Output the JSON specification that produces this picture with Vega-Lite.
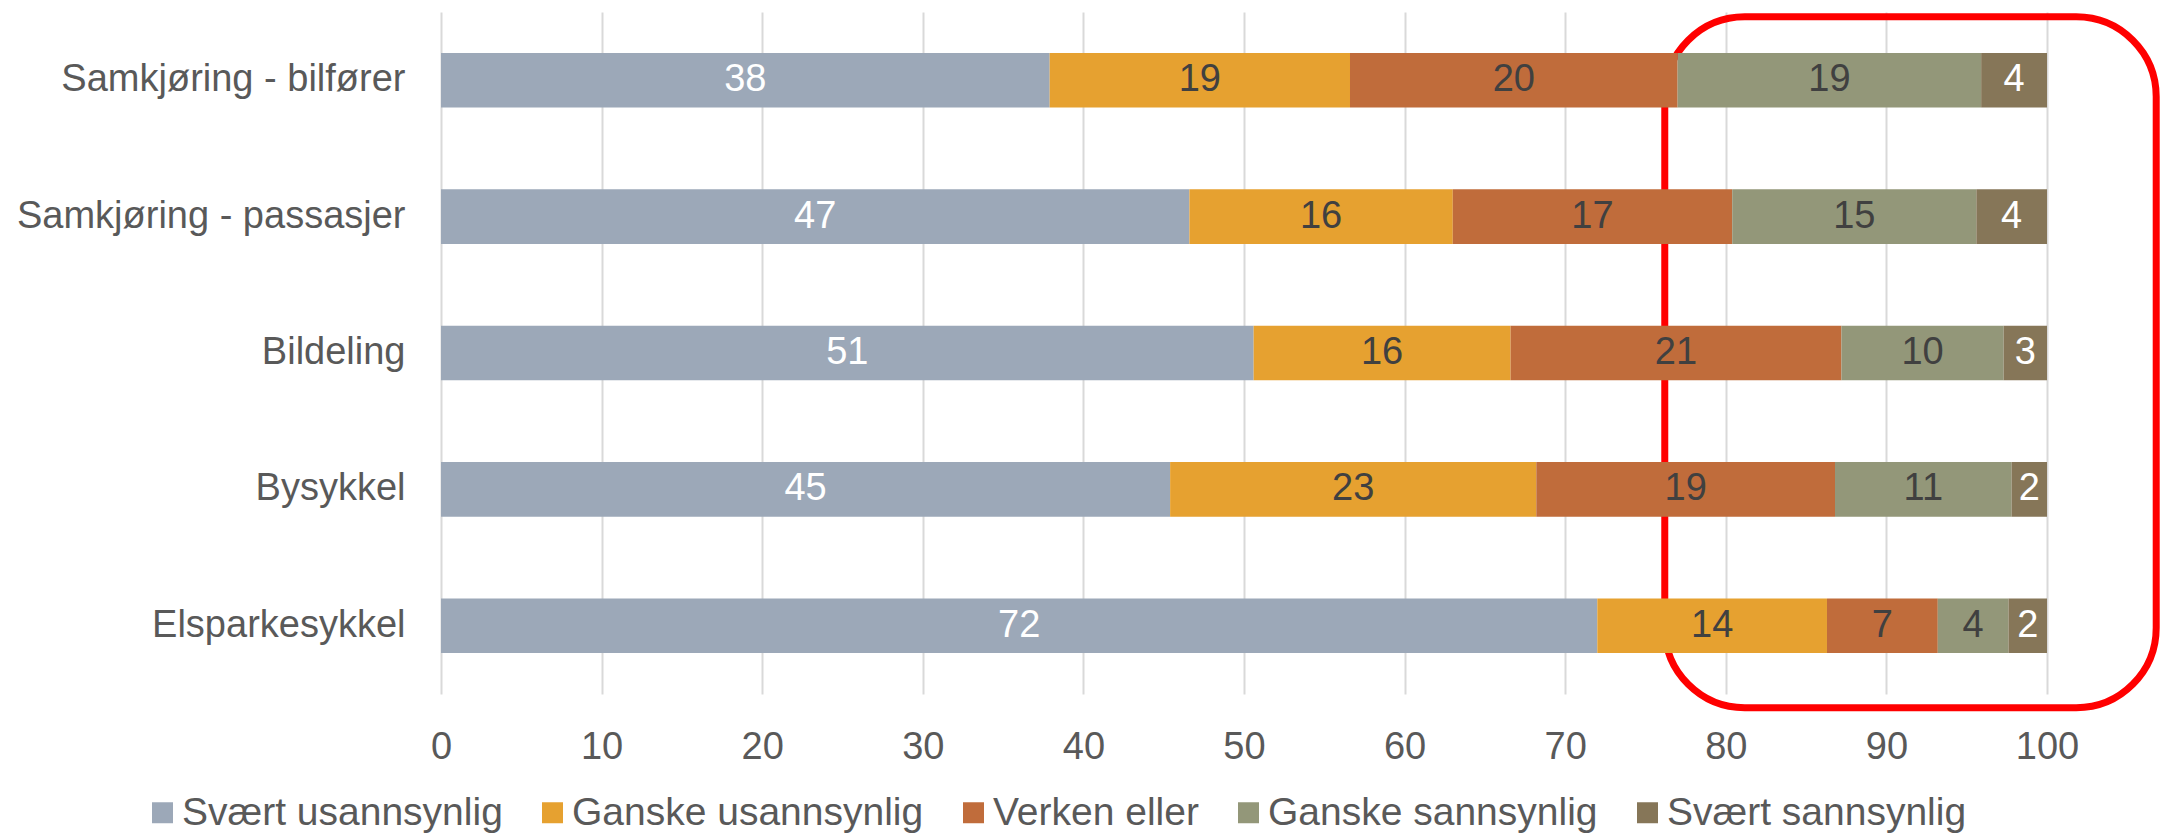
{
  "$schema": "https://vega.github.io/schema/vega-lite/v6.json",
  "width": 1606,
  "height": 682,
  "autosize": {"type": "none"},
  "padding": {"left": 441, "top": 12, "right": 120, "bottom": 141},
  "background": "white",
  "config": {"view": {"stroke": null}, "font": "Liberation Sans"},
  "datasets": {
    "bars": [
      {"kategori": "Samkjøring - bilfører", "serie": "Svært usannsynlig", "rekkefolge": 1, "value": 37.9},
      {"kategori": "Samkjøring - bilfører", "serie": "Ganske usannsynlig", "rekkefolge": 2, "value": 18.7},
      {"kategori": "Samkjøring - bilfører", "serie": "Verken eller", "rekkefolge": 3, "value": 20.4},
      {"kategori": "Samkjøring - bilfører", "serie": "Ganske sannsynlig", "rekkefolge": 4, "value": 18.9},
      {"kategori": "Samkjøring - bilfører", "serie": "Svært sannsynlig", "rekkefolge": 5, "value": 4.1},
      {"kategori": "Samkjøring - passasjer", "serie": "Svært usannsynlig", "rekkefolge": 1, "value": 46.6},
      {"kategori": "Samkjøring - passasjer", "serie": "Ganske usannsynlig", "rekkefolge": 2, "value": 16.4},
      {"kategori": "Samkjøring - passasjer", "serie": "Verken eller", "rekkefolge": 3, "value": 17.4},
      {"kategori": "Samkjøring - passasjer", "serie": "Ganske sannsynlig", "rekkefolge": 4, "value": 15.2},
      {"kategori": "Samkjøring - passasjer", "serie": "Svært sannsynlig", "rekkefolge": 5, "value": 4.4},
      {"kategori": "Bildeling", "serie": "Svært usannsynlig", "rekkefolge": 1, "value": 50.6},
      {"kategori": "Bildeling", "serie": "Ganske usannsynlig", "rekkefolge": 2, "value": 16.0},
      {"kategori": "Bildeling", "serie": "Verken eller", "rekkefolge": 3, "value": 20.6},
      {"kategori": "Bildeling", "serie": "Ganske sannsynlig", "rekkefolge": 4, "value": 10.1},
      {"kategori": "Bildeling", "serie": "Svært sannsynlig", "rekkefolge": 5, "value": 2.7},
      {"kategori": "Bysykkel", "serie": "Svært usannsynlig", "rekkefolge": 1, "value": 45.4},
      {"kategori": "Bysykkel", "serie": "Ganske usannsynlig", "rekkefolge": 2, "value": 22.8},
      {"kategori": "Bysykkel", "serie": "Verken eller", "rekkefolge": 3, "value": 18.6},
      {"kategori": "Bysykkel", "serie": "Ganske sannsynlig", "rekkefolge": 4, "value": 11.0},
      {"kategori": "Bysykkel", "serie": "Svært sannsynlig", "rekkefolge": 5, "value": 2.2},
      {"kategori": "Elsparkesykkel", "serie": "Svært usannsynlig", "rekkefolge": 1, "value": 72.0},
      {"kategori": "Elsparkesykkel", "serie": "Ganske usannsynlig", "rekkefolge": 2, "value": 14.3},
      {"kategori": "Elsparkesykkel", "serie": "Verken eller", "rekkefolge": 3, "value": 6.9},
      {"kategori": "Elsparkesykkel", "serie": "Ganske sannsynlig", "rekkefolge": 4, "value": 4.4},
      {"kategori": "Elsparkesykkel", "serie": "Svært sannsynlig", "rekkefolge": 5, "value": 2.4}
    ],
    "box": [{"x1": 76.2, "x2": 106.8, "y1": -0.02, "y2": 0.993}]
  },
  "layer": [
    {
      "data": {"name": "box"},
      "mark": {"type": "rect", "fill": null, "stroke": "#FF0000", "strokeWidth": 7, "cornerRadius": 80},
      "encoding": {
        "x": {"field": "x1", "type": "quantitative", "scale": {"domain": [0, 100], "nice": false}, "axis": {"title": null}},
        "x2": {"field": "x2"},
        "y": {"field": "y1", "type": "quantitative", "scale": {"domain": [0, 1], "nice": false, "zero": false}, "axis": null},
        "y2": {"field": "y2"}
      }
    },
    {
      "data": {"name": "bars"},
      "transform": [
        {"stack": "value", "groupby": ["kategori"], "sort": [{"field": "rekkefolge", "order": "ascending"}], "as": ["x0", "x1"]}
      ],
      "encoding": {
        "y": {
          "field": "kategori",
          "type": "nominal",
          "sort": ["Samkjøring - bilfører", "Samkjøring - passasjer", "Bildeling", "Bysykkel", "Elsparkesykkel"],
          "scale": {"paddingInner": 0.6, "paddingOuter": 0.3},
          "axis": {
            "title": null,
            "domain": false,
            "ticks": false,
            "labelFontSize": 38,
            "labelColor": "#595959",
            "labelPadding": 36,
            "labelLimit": 600
          }
        }
      },
      "layer": [
        {
          "mark": {"type": "bar"},
          "encoding": {
            "x": {
              "field": "x0",
              "type": "quantitative",
              "scale": {"domain": [0, 100], "nice": false},
              "axis": {
                "title": null,
                "values": [0, 10, 20, 30, 40, 50, 60, 70, 80, 90, 100],
                "grid": true,
                "gridColor": "#d9d9d9",
                "gridWidth": 2,
                "domain": false,
                "ticks": false,
                "labelFontSize": 38,
                "labelColor": "#595959",
                "labelPadding": 34,
                "labelFlush": false
              }
            },
            "x2": {"field": "x1"},
            "color": {
              "field": "serie",
              "type": "nominal",
              "scale": {
                "domain": ["Svært usannsynlig", "Ganske usannsynlig", "Verken eller", "Ganske sannsynlig", "Svært sannsynlig"],
                "range": ["#9CA8B8", "#E6A130", "#C06C3B", "#939779", "#867658"]
              },
              "legend": {
                "title": null,
                "orient": "none",
                "legendX": -298,
                "legendY": 781,
                "direction": "horizontal",
                "symbolType": "square",
                "symbolSize": 441,
                "symbolStrokeWidth": 0,
                "labelFontSize": 39,
                "labelColor": "#595959",
                "labelOffset": 0,
                "columnPadding": 30,
                "labelLimit": 600,
                "padding": 0
              }
            }
          }
        },
        {
          "transform": [{"calculate": "(datum.x0 + datum.x1) / 2", "as": "xm"}],
          "mark": {"type": "text", "fontSize": 38, "align": "center", "baseline": "middle"},
          "encoding": {
            "x": {"field": "xm", "type": "quantitative", "scale": {"domain": [0, 100], "nice": false}, "axis": {"title": null}},
            "text": {"field": "value", "type": "quantitative", "format": ".0f"},
            "fill": {
              "condition": {"test": "datum.serie === 'Svært usannsynlig' || datum.serie === 'Svært sannsynlig'", "value": "#FFFFFF"},
              "value": "#404040"
            }
          }
        }
      ]
    }
  ],
  "resolve": {"scale": {"y": "independent"}, "axis": {"y": "independent"}}
}
